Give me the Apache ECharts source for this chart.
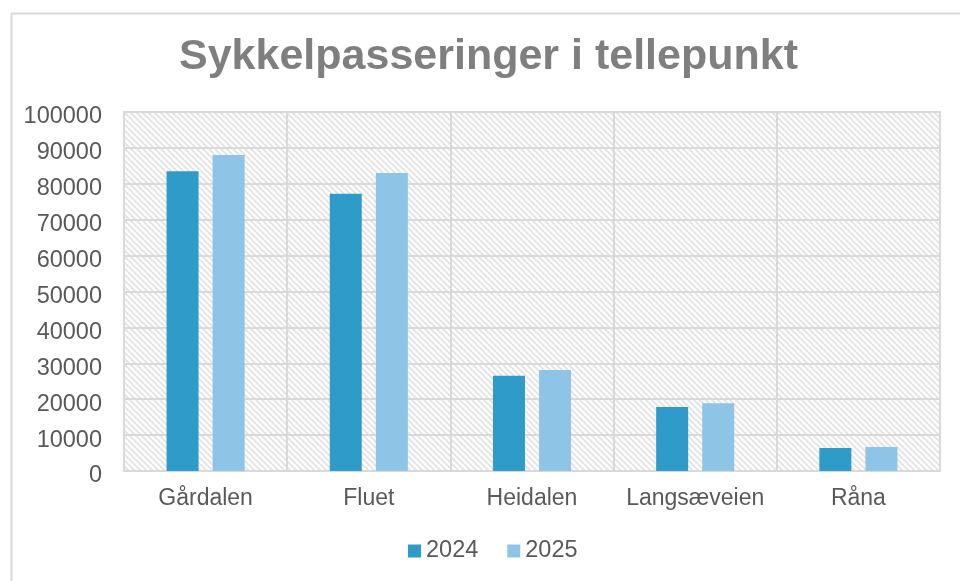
<!DOCTYPE html>
<html>
<head>
<meta charset="utf-8">
<script src="https://cdn.jsdelivr.net/npm/echarts@6/dist/echarts.min.js"></script>
<style>
html,body{margin:0;padding:0;background:#fff;}
#chart{width:960px;height:581px;}
</style>
</head>
<body>
<div id="chart"></div>
<script>
var categories = ['Gårdalen', 'Fluet', 'Heidalen', 'Langsæveien', 'Råna'];
var values2024 = [83500, 77200, 26500, 17800, 6400];
var values2025 = [88000, 83000, 28100, 18900, 6700];
var seriesNames = ['2024', '2025'];
var titleText = 'Sykkelpasseringer i tellepunkt';

var FONT = '"Liberation Sans", Arial, sans-serif';

// diagonal hatch pattern for the plot area
var T = 6;
var pc = document.createElement('canvas');
pc.width = T; pc.height = T;
var ctx = pc.getContext('2d');
ctx.fillStyle = '#ffffff';
ctx.fillRect(0, 0, T, T);
ctx.strokeStyle = '#e2e2e2';
ctx.lineWidth = 1.8;
ctx.beginPath();
ctx.moveTo(-2, -2); ctx.lineTo(T + 2, T + 2);
ctx.moveTo(-T - 2, -2); ctx.lineTo(2, T + 2);
ctx.moveTo(T - 2, -2); ctx.lineTo(2 * T + 2, T + 2);
ctx.stroke();

var chart = echarts.init(document.getElementById('chart'), null, {renderer: 'canvas'});
chart.setOption({
  animation: false,
  backgroundColor: '#ffffff',
  textStyle: {fontFamily: FONT},
  graphic: [{
    type: 'rect', left: 9, top: 11, shape: {width: 1000, height: 1000},
    style: {fill: null, stroke: '#d9d9d9', lineWidth: 2}, silent: true, z: -1
  }],
  title: {
    text: titleText, left: 174, top: 31,
    textStyle: {fontFamily: FONT, fontSize: 43, fontWeight: 'bold', color: '#7f7f7f'}
  },
  legend: {
    bottom: 13, left: 403, itemWidth: 13, itemHeight: 13, itemGap: 29,
    icon: 'rect',
    textStyle: {fontFamily: FONT, fontSize: 23.5, color: '#595959', padding: [0, 0, 0, 0]},
    data: seriesNames
  },
  grid: {
    left: 124, right: 20, top: 112, bottom: 110,
    show: true, backgroundColor: {image: pc, repeat: 'repeat'},
    borderColor: '#d9d9d9', borderWidth: 2
  },
  xAxis: {
    type: 'category', data: categories,
    axisLine: {lineStyle: {color: '#d9d9d9', width: 2}},
    axisTick: {show: false},
    axisLabel: {fontFamily: FONT, fontSize: 23, color: '#595959', margin: 16, interval: 0},
    splitLine: {show: true, interval: 0, lineStyle: {color: '#d9d9d9', width: 2}}
  },
  yAxis: {
    type: 'value', min: 0, max: 100000, interval: 10000,
    axisLine: {show: false}, axisTick: {show: false},
    axisLabel: {fontFamily: FONT, fontSize: 23.5, color: '#595959', margin: 22,
      formatter: function (v) { return '{a|' + v + '}'; },
      rich: {a: {fontFamily: FONT, fontSize: 23.5, color: '#595959', padding: [10, 0, 0, 0]}}},
    splitLine: {lineStyle: {color: '#d9d9d9', width: 2}}
  },
  series: [
    {name: seriesNames[0], type: 'bar', data: values2024, barWidth: 32, barGap: '44%',
     itemStyle: {color: '#2e9bc9'}},
    {name: seriesNames[1], type: 'bar', data: values2025, barWidth: 32,
     itemStyle: {color: '#8ec4e6'}}
  ]
});
</script>
</body>
</html>
